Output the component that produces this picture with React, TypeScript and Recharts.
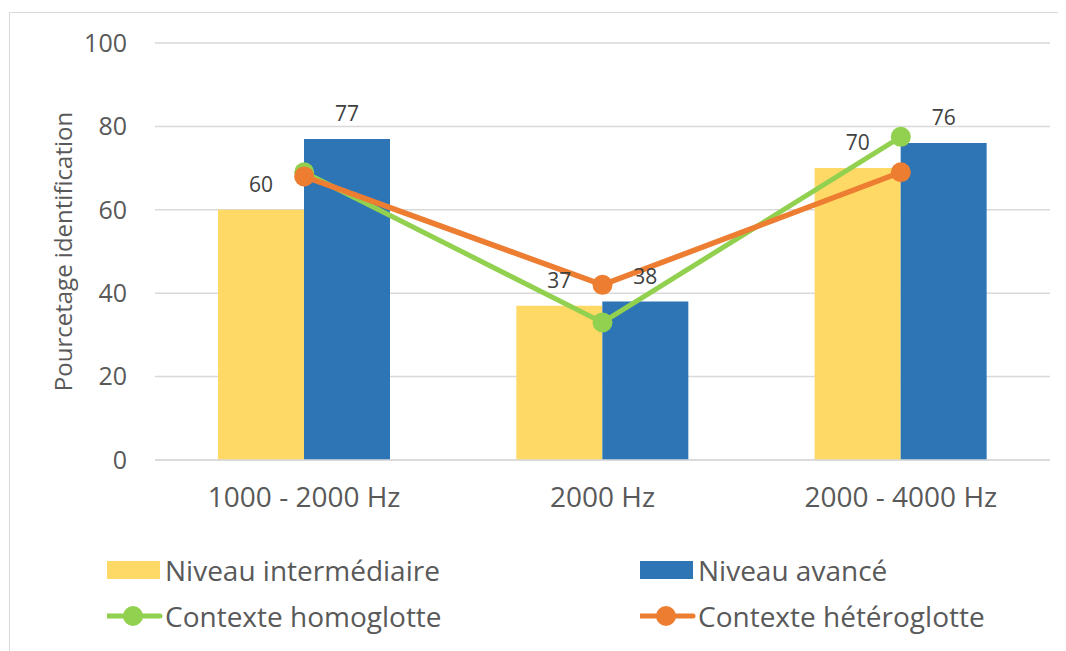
import React from "react";
import {
  ComposedChart,
  Bar,
  Line,
  XAxis,
  YAxis,
  CartesianGrid,
  Legend,
  LabelList,
  Label,
} from "recharts";

const categories = ["1000 - 2000 Hz", "2000 Hz", "2000 - 4000 Hz"];
const intermediaire = [60, 37, 70];
const avance = [77, 38, 76];
const homoglotte = [69, 33, 77.5];
const heteroglotte = [68, 42, 69];
const yTicks = [0, 20, 40, 60, 80, 100];

const YELLOW = "#FFD966";
const BLUE = "#2E75B6";
const GREEN = "#92D050";
const ORANGE = "#ED7D31";
const FONT = "'Open Sans', sans-serif";

const data = categories.map((name, i) => ({
  name,
  intermediaire: intermediaire[i],
  avance: avance[i],
  homoglotte: homoglotte[i],
  heteroglotte: heteroglotte[i],
}));

const legendItems = [
  { label: "Niveau intermédiaire", color: YELLOW, kind: "bar" },
  { label: "Niveau avancé", color: BLUE, kind: "bar" },
  { label: "Contexte homoglotte", color: GREEN, kind: "line" },
  { label: "Contexte hétéroglotte", color: ORANGE, kind: "line" },
];

function LegendGrid() {
  return (
    <div
      style={{
        display: "grid",
        gridTemplateColumns: "533px 400px",
        rowGap: 12,
        paddingLeft: 97,
        fontFamily: FONT,
        fontSize: 28,
        color: "#595959",
      }}
    >
      {legendItems.map((item) => (
        <div key={item.label} style={{ display: "flex", alignItems: "center", height: 34 }}>
          <svg width={58} height={24} style={{ flex: "none" }}>
            {item.kind === "bar" ? (
              <rect x={0} y={3} width={53} height={18} fill={item.color} />
            ) : (
              <g>
                <line x1={0} y1={12} x2={53} y2={12} stroke={item.color} strokeWidth={5} strokeLinecap="round" />
                <circle cx={26} cy={12} r={10} fill={item.color} />
              </g>
            )}
          </svg>
          <span style={{ lineHeight: "34px" }}>{item.label}</span>
        </div>
      ))}
    </div>
  );
}

export default function App() {
  return (
    <div
      style={{
        position: "relative",
        top: 4,
        left: 1,
        width: 1070,
        height: 660,
        border: "1px solid #d9d9d9",
        background: "#fff",
        boxSizing: "border-box",
      }}
    >
      <ComposedChart
        width={1056}
        height={640}
        data={data}
        margin={{ top: 30, right: 16, bottom: 133, left: 0 }}
        barGap={0}
      >
        <CartesianGrid vertical={false} stroke="#d9d9d9" strokeWidth={1.5} />
        <XAxis
          dataKey="name"
          axisLine={{ stroke: "#d9d9d9", strokeWidth: 1.5 }}
          tickLine={false}
          tickMargin={21}
          height={60}
          tick={{ fill: "#595959", fontSize: 28, fontFamily: FONT }}
        />
        <YAxis
          domain={[0, 100]}
          ticks={yTicks}
          width={145}
          axisLine={false}
          tickLine={false}
          tickMargin={22}
          tick={{ fill: "#595959", fontSize: 25, fontFamily: FONT }}
        >
          <Label
            content={({ viewBox }: any) => {
              const cx = viewBox.x + 52;
              const cy = viewBox.y + viewBox.height / 2;
              return (
                <text
                  x={cx}
                  y={cy}
                  transform={`rotate(-90 ${cx} ${cy})`}
                  textAnchor="middle"
                  dominantBaseline="central"
                  fill="#595959"
                  fontSize={24}
                  fontFamily={FONT}
                >
                  Pourcetage identification
                </text>
              );
            }}
          />
        </YAxis>
        <Legend
          layout="horizontal"
          verticalAlign="middle"
          align="center"
          wrapperStyle={{ top: 540, left: 0, width: 1056 }}
          content={() => <LegendGrid />}
        />
        <Bar dataKey="intermediaire" fill={YELLOW} barSize={86} isAnimationActive={false}>
          <LabelList dataKey="intermediaire" position="top" offset={18} fill="#404040" fontSize={21} fontFamily={FONT} />
        </Bar>
        <Bar dataKey="avance" fill={BLUE} barSize={86} isAnimationActive={false}>
          <LabelList dataKey="avance" position="top" offset={18} fill="#404040" fontSize={21} fontFamily={FONT} />
        </Bar>
        <Line
          type="linear"
          dataKey="homoglotte"
          stroke={GREEN}
          strokeWidth={5}
          dot={{ r: 10, fill: GREEN, stroke: GREEN, strokeWidth: 0 }}
          activeDot={false}
          isAnimationActive={false}
        />
        <Line
          type="linear"
          dataKey="heteroglotte"
          stroke={ORANGE}
          strokeWidth={5.5}
          dot={{ r: 10, fill: ORANGE, stroke: ORANGE, strokeWidth: 0 }}
          activeDot={false}
          isAnimationActive={false}
        />
      </ComposedChart>
    </div>
  );
}
